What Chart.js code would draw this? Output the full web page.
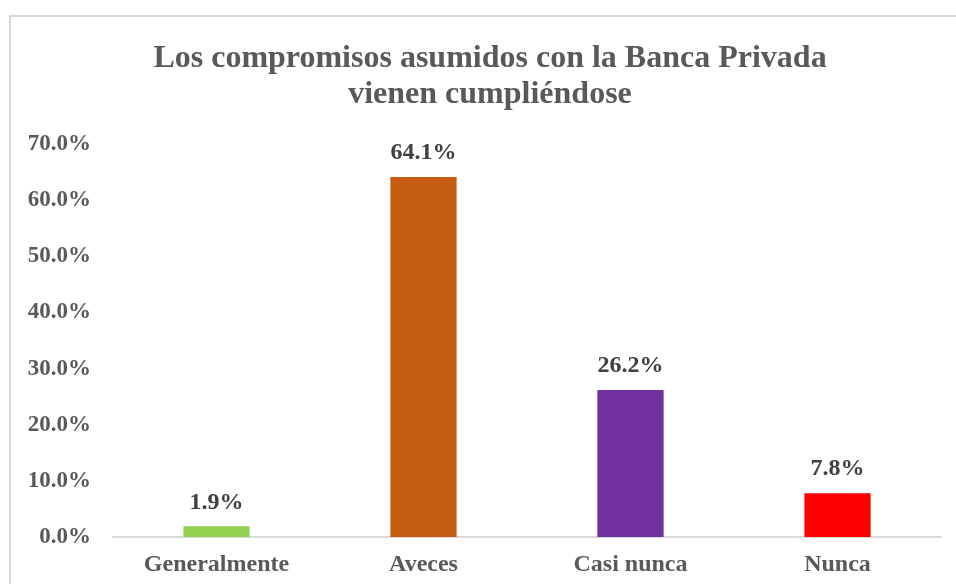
<!DOCTYPE html>
<html>
<head>
<meta charset="utf-8">
<script src="https://cdn.jsdelivr.net/npm/chart.js@4/dist/chart.umd.min.js"></script>
<style>
    html, body { margin: 0; padding: 0; background: #fff; overflow: hidden; }
    #frame {
        position: absolute; left: 9px; top: 15px; width: 1000px; height: 700px;
        border: 2px solid #d9d9d9; box-sizing: border-box;
    }
    #wrap { position: absolute; left: 0; top: 0; width: 956px; height: 584px; }
</style>
</head>
<body>
<div id="frame"></div>
<div id="wrap"><canvas id="chart" width="956" height="584"></canvas></div>
<script>
// ── Data ──
const titleLines = ['Los compromisos asumidos con la Banca Privada', 'vienen cumpliéndose'];
const categories = ['Generalmente', 'Aveces', 'Casi nunca', 'Nunca'];
const values = [1.9, 64.1, 26.2, 7.8];
const barColors = ['#92D050', '#C55A11', '#7030A0', '#FF0000'];
const yTicks = [0, 10, 20, 30, 40, 50, 60, 70];

const serif = '"Liberation Serif", "Times New Roman", serif';

// Etiquettes de valeur au-dessus des barres
const valueLabels = {
    id: 'valueLabels',
    afterDatasetsDraw(chart) {
        const ctx = chart.ctx;
        const meta = chart.getDatasetMeta(0);
        ctx.save();
        ctx.font = `bold 24px ${serif}`;
        ctx.fillStyle = '#404040';
        ctx.textAlign = 'center';
        ctx.textBaseline = 'middle';
        meta.data.forEach((bar, i) => {
            ctx.fillText(values[i].toFixed(1) + '%', bar.x, bar.y - 24);
        });
        ctx.restore();
    }
};

new Chart(document.getElementById('chart'), {
    type: 'bar',
    data: {
        labels: categories,
        datasets: [{ data: values, backgroundColor: barColors, borderWidth: 0,
            categoryPercentage: 1, barPercentage: 0.32 }]
    },
    options: {
        responsive: false,
        animation: false,
        layout: { padding: { left: 24, right: 0, top: 0, bottom: 0 } },
        plugins: {
            legend: { display: false },
            tooltip: { enabled: false },
            title: {
                display: true,
                text: titleLines,
                color: '#595959',
                font: { family: serif, size: 32, weight: 'bold', lineHeight: 1.125 },
                padding: { top: 41, bottom: 31 }
            }
        },
        scales: {
            x: {
                grid: { display: false, drawTicks: false },
                border: { display: true, color: '#d9d9d9', width: 2 },
                ticks: { color: '#595959', padding: 13, font: { family: serif, size: 24, weight: 'bold' } },
                afterFit: s => { s.height = 47; }
            },
            y: {
                min: 0, max: 70,
                afterBuildTicks: s => { s.ticks = yTicks.map(v => ({ value: v })); },
                grid: { display: false, drawTicks: false },
                border: { display: false },
                ticks: {
                    color: '#595959', padding: 22,
                    font: { family: serif, size: 23, weight: 'bold' },
                    callback: v => v.toFixed(1) + '%'
                },
                afterFit: s => { s.width = 89; }
            },
            // marge droite vide
            yRight: {
                type: 'linear', position: 'right',
                grid: { display: false, drawTicks: false },
                border: { display: false },
                ticks: { display: false },
                afterFit: s => { s.width = 15; }
            }
        }
    },
    plugins: [valueLabels]
});
</script>
</body>
</html>
